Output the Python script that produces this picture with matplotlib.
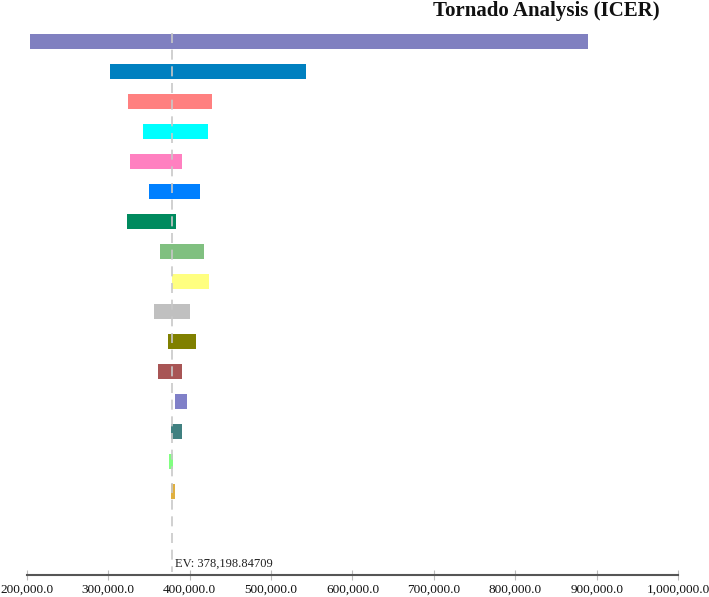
import matplotlib
matplotlib.use("Agg")
import matplotlib.pyplot as plt
from matplotlib.ticker import FuncFormatter
import numpy as np

title = "Tornado Analysis (ICER)"
ev = 378198.84709
lows = [204050, 302500, 324400, 343200, 327200, 349800, 323500, 363650, 378700,
        355900, 373500, 361600, 382100, 376800, 374700, 377500, 377900, 378000]
highs = [888700, 543000, 427500, 422200, 391000, 412400, 382900, 417300, 423800,
         400900, 408200, 391000, 396800, 391000, 379600, 382100, 378500, 378600]
colors = ["#8080c0", "#0080c0", "#ff8080", "#00ffff", "#ff80c0", "#0080ff",
          "#008a5e", "#80c080", "#ffff80", "#c0c0c0", "#808000", "#a85555",
          "#8080c8", "#408080", "#80ff80", "#e0b040", "#e08080", "#80a8d0"]
xticks = [200000, 300000, 400000, 500000, 600000, 700000, 800000, 900000, 1000000]

W, H = 709, 597
fig = plt.figure(figsize=(W / 100, H / 100), dpi=100)
left_px, right_px = 26.7, 678.3
top_px, bot_px = 26, 575
ax = fig.add_axes([left_px / W, 1 - bot_px / H, (right_px - left_px) / W, (bot_px - top_px) / H])

y = np.arange(len(lows))
lows_a = np.array(lows)
highs_a = np.array(highs)
ax.barh(y, highs_a - lows_a, left=lows_a, height=0.5, color=colors, linewidth=0)

ax.vlines(ev, -0.27, 17.7, colors="#c8c8c8", linestyles=(0, (6, 4)), linewidth=1.2, zorder=3)
ax.text(ev + 4000, 17.53, "EV: {:,.5f}".format(ev), fontsize=9, family="Liberation Serif",
        color="#222222", va="baseline", ha="left")

ax.set_xlim(200000, 1000000)
ax.set_ylim(17.8, -0.5)
ax.set_xticks(xticks)
ax.xaxis.set_major_formatter(FuncFormatter(lambda v, p: "{:,.1f}".format(v)))
for lab in ax.get_xticklabels():
    lab.set_family("Liberation Serif")
    lab.set_fontsize(9.5)
ax.tick_params(axis="x", direction="inout", length=7, width=0.8, color="#bbbbbb",
               pad=3, labelcolor="#111111")
ax.set_yticks([])
for s in ["top", "right", "left"]:
    ax.spines[s].set_visible(False)
ax.spines["bottom"].set_color("#555555")
ax.spines["bottom"].set_linewidth(1.5)

fig.text(660 / W, 1 - 11 / H, title, ha="right", va="center", fontsize=15,
         fontweight="bold", family="Liberation Serif", color="#111111")

fig.savefig("out.png", dpi=100)
